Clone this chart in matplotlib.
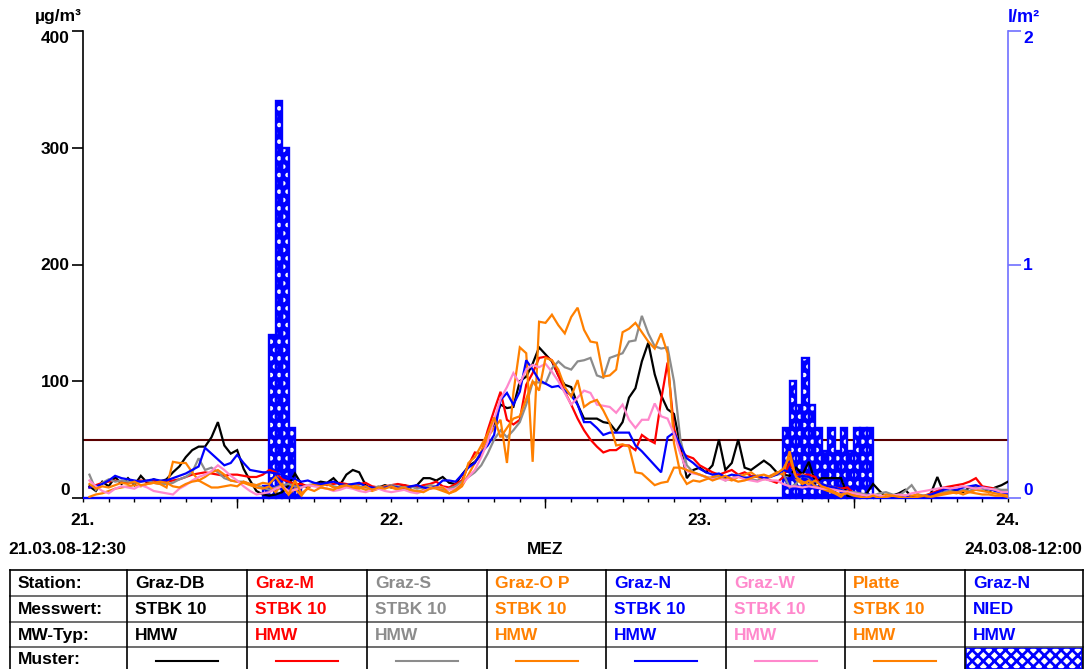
import numpy as np
import matplotlib.pyplot as plt
from matplotlib.lines import Line2D
from matplotlib.patches import Rectangle

plt.rcParams['font.family'] = ['Liberation Sans', 'DejaVu Sans']
plt.rcParams['font.weight'] = 'bold'
plt.rcParams['font.size'] = 12.5
plt.rcParams['hatch.linewidth'] = 2.0

W, H = 1089, 669

# Halbstundenmittelwerte 21.03.08 12:30 - 24.03.08 12:00, 144 Werte je Station
graz_db = [10, 6, 14, 10, 18, 12, 17, 11, 19, 13, 16, 14,
           16, 22, 27, 35, 41, 44, 44, 52, 65, 45, 38, 41,
           25, 15, 6, 3, 2, 3, 5, 11, 21, 12, 9, 12,
           14, 13, 17, 11, 20, 24, 22, 11, 7, 9, 11, 9,
           9, 11, 9, 11, 17, 17, 15, 18, 13, 12, 20, 27,
           31, 37, 52, 64, 80, 77, 78, 100, 104, 115, 129, 123,
           117, 105, 97, 95, 80, 68, 68, 68, 65, 64, 57, 65,
           86, 94, 117, 133, 106, 88, 76, 72, 45, 17, 24, 26,
           22, 28, 50, 24, 30, 50, 26, 24, 28, 32, 28, 22,
           20, 19, 26, 20, 31, 13, 17, 17, 17, 17, 2, 1,
           1, 4, 12, 6, 1, 2, 4, 7, 1, 0, 0, 4,
           18, 4, 6, 7, 5, 9, 9, 9, 5, 9, 11, 14]
graz_m = [9, 11, 13, 14, 15, 14, 13, 14, 15, 14, 15, 13,
          14, 15, 16, 18, 20, 21, 22, 21, 20, 19, 20, 20,
          19, 18, 18, 20, 24, 22, 16, 14, 12, 12, 10, 11,
          12, 11, 12, 13, 12, 11, 12, 13, 10, 9, 10, 11,
          12, 11, 10, 9, 11, 12, 14, 10, 9, 12, 15, 28,
          39, 38, 58, 75, 91, 67, 63, 67, 97, 107, 120, 121,
          118, 105, 91, 80, 68, 58, 50, 44, 39, 41, 41, 45,
          45, 41, 54, 50, 47, 84, 116, 60, 39, 36, 34, 28,
          25, 22, 20, 22, 24, 20, 22, 19, 18, 17, 15, 13,
          18, 30, 20, 20, 20, 18, 9, 10, 9, 8, 9, 4,
          1, 0, 0, 1, 0, 0, 1, 2, 0, 1, 2, 4,
          6, 9, 10, 11, 12, 14, 17, 10, 9, 8, 5, 4]
graz_s = [20, 7, 13, 16, 14, 15, 14, 13, 14, 15, 13, 12,
          12, 13, 16, 18, 22, 34, 24, 26, 22, 17, 15, 14,
          14, 12, 11, 9, 7, 9, 11, 12, 10, 9, 11, 12,
          11, 12, 10, 9, 11, 12, 10, 9, 8, 10, 9, 11,
          10, 9, 10, 8, 9, 11, 10, 7, 8, 10, 14, 18,
          22, 28, 38, 50, 58, 52, 58, 65, 80, 99, 99, 98,
          111, 117, 112, 110, 117, 118, 120, 105, 103, 120, 122, 124,
          134, 135, 156, 141, 130, 128, 129, 100, 50, 28, 22, 20,
          18, 17, 19, 15, 17, 20, 18, 16, 15, 17, 19, 20,
          21, 9, 12, 20, 17, 14, 12, 10, 9, 7, 5, 5,
          4, 3, 2, 4, 5, 3, 2, 6, 11, 3, 2, 3,
          4, 5, 6, 5, 7, 6, 9, 8, 7, 8, 7, 7]
graz_op = [1, 3, 4, 6, 8, 9, 10, 11, 10, 12, 13, 12,
           9, 31, 30, 30, 22, 15, 18, 22, 24, 20, 15, 14,
           13, 11, 9, 8, 10, 5, 12, 3, 8, 2, 9, 12,
           10, 12, 9, 8, 10, 11, 9, 7, 6, 8, 10, 9,
           7, 8, 6, 5, 7, 9, 8, 6, 4, 6, 10, 20,
           30, 40, 52, 60, 67, 30, 90, 129, 124, 31, 151, 150,
           157, 148, 141, 155, 163, 144, 134, 133, 104, 105, 110, 142,
           145, 150, 142, 134, 128, 141, 124, 47, 21, 12, 15, 14,
           16, 18, 20, 17, 15, 18, 20, 22, 18, 16, 19, 22,
           20, 40, 16, 12, 15, 10, 8, 6, 4, 1, 6, 2,
           2, 1, 0, 1, 3, 2, 1, 0, 2, 3, 1, 2,
           3, 4, 5, 4, 6, 5, 7, 6, 5, 4, 3, 3]
graz_n = [9, 10, 12, 15, 19, 17, 16, 15, 14, 15, 16, 15,
          15, 17, 19, 21, 24, 27, 43, 38, 33, 28, 30, 37,
          30, 24, 23, 22, 22, 21, 20, 18, 16, 14, 15, 13,
          12, 13, 14, 12, 11, 12, 13, 10, 9, 8, 9, 10,
          9, 8, 10, 11, 9, 8, 10, 15, 15, 14, 20, 26,
          30, 39, 45, 54, 84, 90, 80, 91, 118, 110, 101, 98,
          95, 96, 92, 88, 80, 65, 65, 60, 54, 56, 56, 56,
          56, 45, 40, 34, 28, 22, 52, 56, 45, 34, 30, 25,
          22, 20, 21, 18, 20, 19, 17, 18, 19, 17, 18, 20,
          24, 22, 17, 19, 18, 14, 12, 10, 9, 7, 4, 1,
          1, 0, 0, 1, 0, 0, 0, 1, 0, 0, 1, 3,
          5, 7, 8, 7, 9, 10, 11, 9, 8, 6, 5, 4]
graz_w = [15, 10, 6, 4, 8, 10, 9, 8, 11, 9, 6, 5,
          4, 3, 8, 11, 15, 18, 20, 23, 28, 24, 19, 15,
          10, 6, 3, 4, 5, 8, 10, 6, 7, 9, 11, 10,
          9, 8, 6, 7, 9, 8, 6, 5, 7, 8, 6, 5,
          6, 7, 5, 4, 6, 8, 9, 9, 7, 8, 12, 18,
          24, 35, 48, 67, 85, 95, 107, 98, 110, 114, 112, 115,
          108, 100, 90, 80, 86, 92, 90, 80, 79, 78, 73, 80,
          67, 60, 67, 67, 81, 70, 68, 55, 38, 23, 21, 20,
          18, 16, 17, 15, 17, 18, 16, 15, 14, 16, 15, 15,
          12, 10, 10, 9, 10, 9, 8, 8, 7, 6, 5, 4,
          3, 2, 3, 2, 1, 2, 3, 2, 4, 5, 6, 7,
          8, 9, 8, 9, 10, 9, 8, 9, 8, 7, 5, 5]
platte = [12, 8, 10, 9, 11, 13, 12, 14, 11, 12, 13, 14,
          13, 10, 9, 12, 14, 15, 12, 9, 9, 10, 11, 10,
          14, 12, 11, 13, 12, 18, 10, 3, 15, 4, 8, 6,
          9, 8, 7, 10, 11, 9, 8, 10, 7, 9, 8, 10,
          8, 9, 7, 6, 5, 8, 9, 9, 4, 7, 12, 30,
          35, 45, 55, 69, 52, 60, 68, 70, 85, 100, 92, 120,
          118, 110, 95, 87, 101, 78, 82, 84, 75, 64, 45, 46,
          44, 22, 21, 16, 11, 13, 14, 26, 26, 24, 22, 20,
          18, 15, 17, 19, 16, 14, 15, 17, 19, 20, 18, 21,
          25, 35, 18, 14, 12, 15, 10, 8, 5, 3, 4, 2,
          1, 0, 2, 0, 1, 2, 1, 0, 0, 1, 2, 1,
          2, 3, 4, 5, 3, 5, 4, 3, 3, 2, 2, 1]

# Niederschlag Graz-N [l/m2]
nied = ([0.0] * 28 + [0.05, 0.7, 1.7, 1.5, 0.3, 0.05] + [0.0] * 75 +
        [0.3, 0.5, 0.4, 0.6, 0.4, 0.3, 0.2, 0.3, 0.2, 0.3, 0.2, 0.3, 0.3, 0.3] +
        [0.0] * 21)

grenzwert = 50

stationen = ['Graz-DB', 'Graz-M', 'Graz-S', 'Graz-O P', 'Graz-N', 'Graz-W', 'Platte', 'Graz-N']
messwerte = ['STBK 10'] * 7 + ['NIED']
mw_typ = ['HMW'] * 8
farben = ['#000000', '#ff0000', '#8c8c8c', '#ff8000', '#0000ff', '#ff88cc', '#ff8000', '#0000ff']
tage = ['21.', '22.', '23.', '24.']

reihen = [graz_db, graz_m, graz_s, graz_op, graz_n, graz_w, platte]
t_end = np.arange(1, 145) / 48      # Ende des Halbstundenintervalls in Tagen ab 21. 12:00
t_start = t_end - 1 / 48


def fx(x):
    return x / W


def fy(y):
    return 1 - y / H


fig = plt.figure(figsize=(W / 100, H / 100), dpi=100)
pos = [fx(83), fy(498), (1008 - 83) / W, (498 - 31) / H]
ax = fig.add_axes(pos)
ax2 = ax.twinx()
axl = fig.add_axes(pos, sharex=ax, sharey=ax)
axl.axis('off')
axl.patch.set_visible(False)

# Grenzwert
ax.axhline(grenzwert, color='#5c0000', lw=1.5)
ax.set_xlim(0, 3)
ax.set_ylim(0, 400)

# Niederschlag als Balken (blau mit weissen Punkten)
ax2.bar(t_start, nied, width=1 / 48, align='edge', color='#0000ff',
        edgecolor='white', hatch='..', linewidth=0, clip_on=False)
ax2.bar(t_start, nied, width=1 / 48, align='edge', fill=False,
        edgecolor='#0000ff', linewidth=1.7, clip_on=False)
ax2.set_ylim(0, 2)

for werte, farbe in zip(reihen, farben):
    axl.plot(t_end, werte, color=farbe, lw=1.6, solid_joinstyle='miter')

# linke Achse
for s in ['top', 'right', 'bottom']:
    ax.spines[s].set_visible(False)
ax.spines['left'].set_linewidth(1.2)
ax.set_yticks([0, 100, 200, 300, 400])
ax.tick_params(axis='y', length=8, width=1.2, pad=1.5, labelsize=12.5)
ylabs = ax.get_yticklabels()
ylabs[0].set_verticalalignment('bottom')
ylabs[-1].set_verticalalignment('top')

# rechte Achse
for s in ['top', 'left', 'bottom']:
    ax2.spines[s].set_visible(False)
ax2.spines['right'].set_color('#7070ff')
ax2.spines['right'].set_linewidth(1.2)
ax2.set_yticks([0, 1, 2])
ax2.tick_params(axis='y', length=9, width=1.2, pad=2, color='#7070ff',
                labelcolor='#0000ff', labelsize=12.5)
rlabs = ax2.get_yticklabels()
rlabs[0].set_verticalalignment('bottom')
rlabs[-1].set_verticalalignment('top')

# Zeitachse
ax.set_xticks([0, 1, 2, 3], tage)
ax.set_xticks(np.arange(1, 36) / 12, minor=True)
ax.tick_params(axis='x', which='both', length=3, width=1, pad=8, labelsize=12.5)
sec = ax.secondary_xaxis('bottom')
sec.set_xticks([0.5, 1.5, 2.5])
sec.tick_params(length=7, width=1, labelbottom=False)
sec.spines['bottom'].set_visible(False)

fig.text(fx(35), fy(17), 'µg/m³', ha='left', va='center', fontsize=12.5)
fig.text(fx(1008), fy(17), 'l/m²', ha='left', va='center', fontsize=13, color='#0000ff')
fig.text(fx(8), fy(550), '21.03.08-12:30', ha='left', va='center')
fig.text(fx(545), fy(550), 'MEZ', ha='center', va='center')
fig.text(fx(1082), fy(550), '24.03.08-12:00', ha='right', va='center')

# Legendentabelle
xs = [10, 127, 247, 367, 487, 606, 726, 845, 965, 1083]
ys = [570, 596, 622, 647, 669]
zeilen = ['Station:', 'Messwert:', 'MW-Typ:', 'Muster:']

for y in ys[1:-1]:
    fig.add_artist(Line2D([fx(xs[0]), fx(xs[-1])], [fy(y), fy(y)], color='#555555', lw=1.2))
fig.add_artist(Line2D([fx(xs[0]), fx(xs[-1])], [fy(ys[0]), fy(ys[0])], color='black', lw=1.2))
for x in xs:
    fig.add_artist(Line2D([fx(x), fx(x)], [fy(ys[0]), fy(ys[-1])], color='black', lw=1.2))

for r, name in enumerate(zeilen):
    yc = (ys[r] + ys[r + 1]) / 2 + 1
    fig.text(fx(xs[0] + 8), fy(yc), name, ha='left', va='center')

for c in range(8):
    x0 = xs[c + 1] + 8
    for r, txt in enumerate([stationen[c], messwerte[c], mw_typ[c]]):
        yc = (ys[r] + ys[r + 1]) / 2 + 1
        fig.text(fx(x0), fy(yc), txt, ha='left', va='center', color=farben[c])
    xm = (xs[c + 1] + xs[c + 2]) / 2
    if c < 7:
        fig.add_artist(Line2D([fx(xm - 31), fx(xm + 31)], [fy(661), fy(661)],
                              color=farben[c], lw=1.5))
    else:
        fig.add_artist(Rectangle((fx(xs[c + 1] + 1), fy(ys[-1])),
                                 (xs[c + 2] - xs[c + 1] - 2) / W, (ys[-1] - ys[-2] - 1) / H,
                                 facecolor='white', edgecolor='#0000ff', hatch='xxx', lw=1.2))

fig.savefig('out.png', dpi=100)
